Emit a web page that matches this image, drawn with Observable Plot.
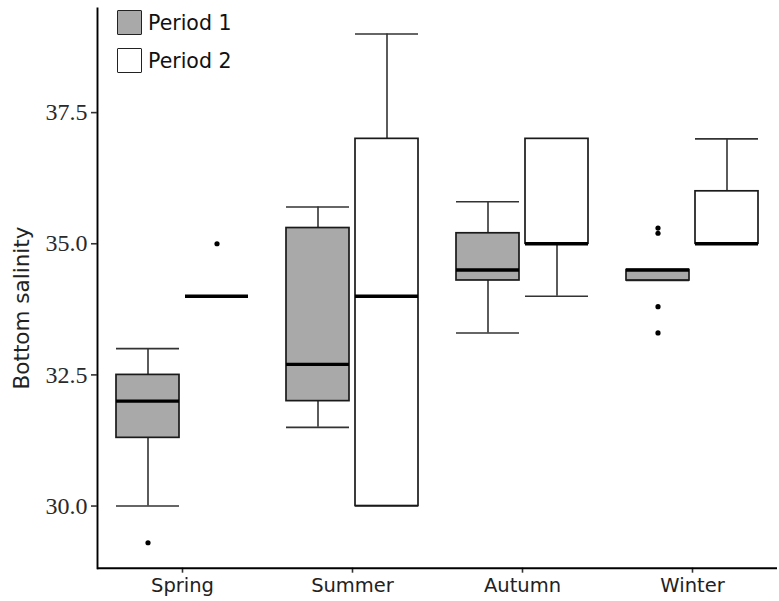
<!DOCTYPE html>
<html><head><meta charset="utf-8">
<script src="https://cdn.jsdelivr.net/npm/d3@7"></script>
<script src="https://cdn.jsdelivr.net/npm/@observablehq/plot@0.6"></script>
<style>
html,body{margin:0;padding:0;background:#fff;overflow:hidden}
#wrap{position:relative;width:779px;height:601px}
#wrap svg{position:absolute;left:0;top:0}
#wrap svg [aria-label="y-axis tick label"] text{font-family:"Liberation Serif",serif;font-size:24px;fill:#2a2a2a}
#wrap svg [aria-label="y-axis tick"] path{stroke-width:1.6px;stroke:#333}
#wrap svg [aria-label="frame"] line{stroke-width:1.9px;stroke:#000}
#wrap svg [aria-label="fx-axis tick"] path{stroke-width:1.6px;stroke:#333}
#wrap svg [aria-label="fx-axis tick label"] text{font-family:"DejaVu Sans",sans-serif;font-size:19.5px;fill:#222}
.ylab{position:absolute;left:21px;top:308px;transform:translate(-50%,-50%) rotate(-90deg);white-space:nowrap;font:21.5px "DejaVu Sans",sans-serif;color:#222}
.leg{position:absolute;left:117px;display:flex;align-items:center;font:20.5px "DejaVu Sans",sans-serif;color:#111}
.leg .sw{width:23px;height:23px;border:1.6px solid #222;border-radius:1px;margin-right:6px}
</style></head><body><div id="wrap"></div>
<script>
const seasons = ["Spring", "Summer", "Autumn", "Winter"];
const periods = ["Period 1", "Period 2"];
const periodFills = ["#a9a9a9", "#ffffff"];

// box summaries, one per season x period
const boxSeason = ["Spring", "Spring", "Summer", "Summer", "Autumn", "Autumn", "Winter", "Winter"];
const boxPeriod = ["Period 1", "Period 2", "Period 1", "Period 2", "Period 1", "Period 2", "Period 1", "Period 2"];
const whiskerLow = [30.0, 34.0, 31.5, 30.0, 33.3, 34.0, 34.3, 35.0];
const quart1 = [31.3, 34.0, 32.0, 30.0, 34.3, 35.0, 34.3, 35.0];
const medians = [32.0, 34.0, 32.7, 34.0, 34.5, 35.0, 34.5, 35.0];
const quart3 = [32.5, 34.0, 35.3, 37.0, 35.2, 37.0, 34.5, 36.0];
const whiskerHigh = [33.0, 34.0, 35.7, 39.0, 35.8, 37.0, 34.5, 37.0];

// outliers
const outSeason = ["Spring", "Spring", "Winter", "Winter", "Winter", "Winter"];
const outPeriod = ["Period 1", "Period 2", "Period 1", "Period 1", "Period 1", "Period 1"];
const outValue = [29.3, 35.0, 35.3, 35.2, 33.8, 33.3];

const yTicks = [30.0, 32.5, 35.0, 37.5];
const yDomain = [28.815, 39.485];

const boxes = boxSeason.map((s, i) => ({
  season: s, period: boxPeriod[i], lo: whiskerLow[i], q1: quart1[i],
  med: medians[i], q3: quart3[i], hi: whiskerHigh[i]
}));
const outliers = outSeason.map((s, i) => ({season: s, period: outPeriod[i], v: outValue[i]}));

const whisker = {stroke: "#333", strokeWidth: 1.6};
const chart = Plot.plot({
  width: 779, height: 601,
  marginTop: 8, marginBottom: 33.3, marginLeft: 97, marginRight: 2,
  style: {background: "white", overflow: "visible"},
  fx: {domain: seasons, padding: 0, axis: "bottom", label: null, tickSize: 5, tickPadding: 5},
  x: {domain: periods, paddingInner: 0.087, paddingOuter: 0.275, axis: null},
  y: {domain: yDomain, ticks: yTicks, tickFormat: d3.format(".1f"), tickSize: 6, tickPadding: 4, label: null, line: true},
  color: {domain: periods, range: periodFills},
  marks: [
    Plot.ruleY([yDomain[0]], {stroke: "black", strokeWidth: 1.9}),
    Plot.ruleX(boxes, {fx: "season", x: "period", y1: "lo", y2: "q1", ...whisker}),
    Plot.ruleX(boxes, {fx: "season", x: "period", y1: "q3", y2: "hi", ...whisker}),
    Plot.tickY(boxes, {fx: "season", x: "period", y: "lo", ...whisker}),
    Plot.tickY(boxes, {fx: "season", x: "period", y: "hi", ...whisker}),
    Plot.barY(boxes, {fx: "season", x: "period", y1: "q1", y2: "q3", fill: "period", stroke: "#1a1a1a", strokeWidth: 1.7}),
    Plot.tickY(boxes, {fx: "season", x: "period", y: "med", stroke: "black", strokeWidth: 3.4}),
    Plot.dot(outliers, {fx: "season", x: "period", y: "v", r: 2.6, fill: "black", stroke: null})
  ]
});
const wrap = document.getElementById("wrap");
wrap.appendChild(chart);

const ylab = document.createElement("div");
ylab.className = "ylab";
ylab.textContent = "Bottom salinity";
wrap.appendChild(ylab);

periods.forEach((p, i) => {
  const row = document.createElement("div");
  row.className = "leg";
  row.style.top = (10 + i * 38) + "px";
  const sw = document.createElement("div");
  sw.className = "sw";
  sw.style.background = periodFills[i];
  const t = document.createElement("span");
  t.textContent = p;
  row.appendChild(sw); row.appendChild(t);
  wrap.appendChild(row);
});
</script></body></html>
